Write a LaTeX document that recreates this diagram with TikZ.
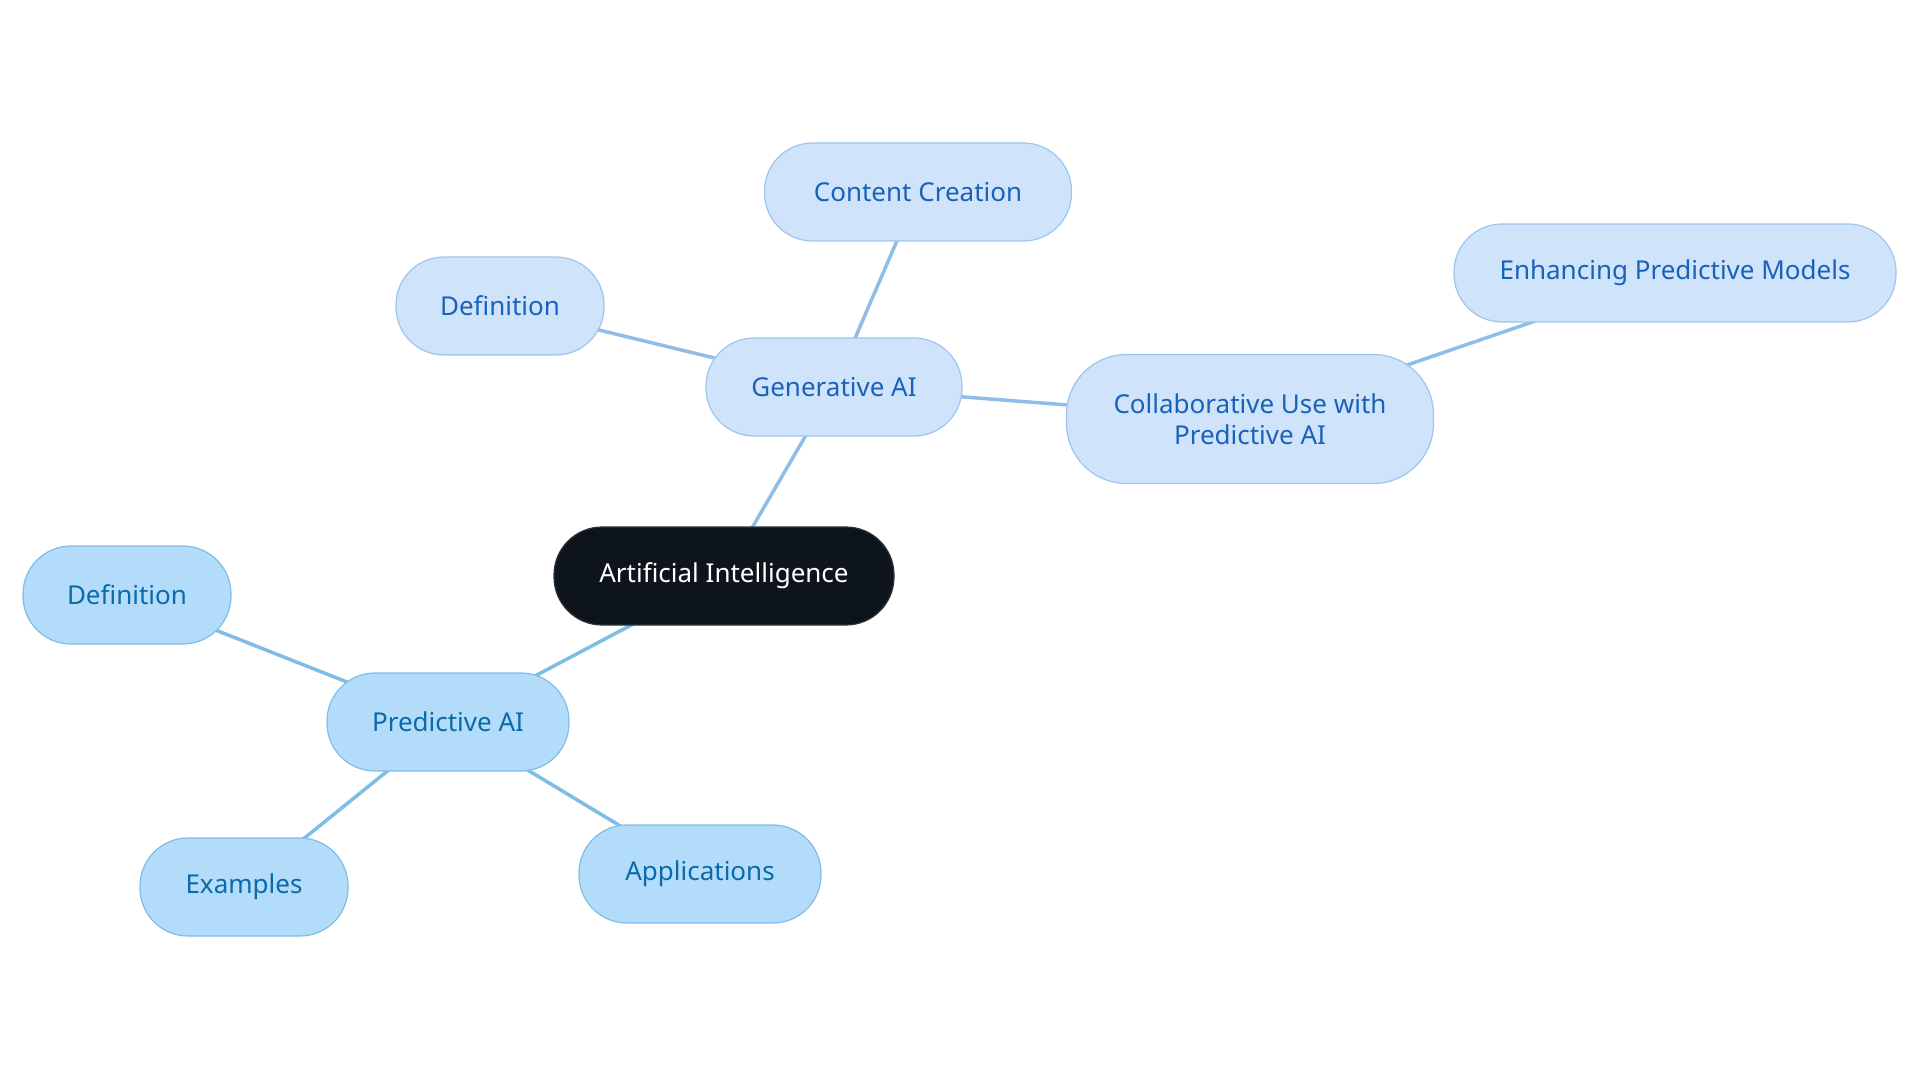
\documentclass[tikz,border=0pt]{standalone}
\usepackage{fontspec}
\setmainfont{Noto Sans}
\usepackage{xcolor}
\usetikzlibrary{backgrounds}
\definecolor{genfill}{HTML}{CFE3FB}
\definecolor{gendraw}{HTML}{9EC5EE}
\definecolor{gentext}{HTML}{1A62B8}
\definecolor{genline}{HTML}{90BDE8}
\definecolor{prefill}{HTML}{B3DCFB}
\definecolor{predraw}{HTML}{7FBDE8}
\definecolor{pretext}{HTML}{0B6AA8}
\definecolor{preline}{HTML}{7DBDE6}
\definecolor{rootfill}{HTML}{0D141B}
\tikzset{
  pill/.style={rounded corners=48pt, minimum height=98pt, line width=1.2pt,
    align=center, font=\fontsize{26}{31}\selectfont, inner sep=0pt},
  genbox/.style={pill, fill=genfill, draw=gendraw, text=gentext},
  prebox/.style={pill, fill=prefill, draw=predraw, text=pretext},
  rootbox/.style={pill, fill=rootfill, draw=rootfill!70!gray, text=white},
  genlink/.style={draw=genline, line width=3.5pt},
  prelink/.style={draw=preline, line width=3.5pt}
}
\begin{document}
\begin{tikzpicture}[x=1pt,y=1pt]
\useasboundingbox (0,0) rectangle (1920,-1083);
% ROOT
\node[rootbox, minimum width=340pt] (root) at (724,-576) {Artificial Intelligence};
% GENERATIVE BRANCH
\node[genbox, minimum width=256pt] (gen) at (834,-387) {Generative AI};
\node[genbox, minimum width=307pt] (content) at (918,-192) {Content Creation};
\node[genbox, minimum width=208pt] (gdef) at (500,-306) {Definition};
\node[genbox, minimum width=367pt, minimum height=129pt, rounded corners=60pt] (collab) at (1250,-419) {Collaborative Use with\\Predictive AI};
\node[genbox, minimum width=442pt] (enhance) at (1675,-273) {Enhancing Predictive Models};
% PREDICTIVE BRANCH
\node[prebox, minimum width=242pt] (pred) at (448,-722) {Predictive AI};
\node[prebox, minimum width=208pt] (pdef) at (127,-595) {Definition};
\node[prebox, minimum width=208pt] (examples) at (244,-887) {Examples};
\node[prebox, minimum width=242pt] (apps) at (700,-874) {Applications};
% CONNECTORS
\begin{scope}[on background layer]
\draw[genlink] (root.center) -- (gen.center);
\draw[genlink] (gen.center) -- (content.center);
\draw[genlink] (gen.center) -- (gdef.center);
\draw[genlink] (gen.center) -- (collab.center);
\draw[genlink] (collab.center) -- (enhance.center);
\draw[prelink] (root.center) -- (pred.center);
\draw[prelink] (pred.center) -- (pdef.center);
\draw[prelink] (pred.center) -- (examples.center);
\draw[prelink] (pred.center) -- (apps.center);
\end{scope}
\end{tikzpicture}
\end{document}
